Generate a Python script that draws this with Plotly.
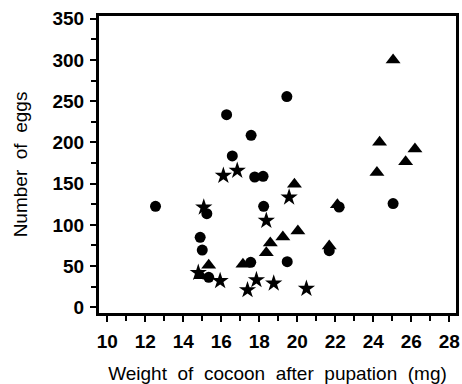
import plotly.graph_objects as go

# Circles
circle_x = [12.54, 16.28, 17.57, 16.58, 17.76, 18.20, 19.45, 18.23, 15.24, 14.89, 15.00, 15.34, 17.55, 19.47, 22.20, 21.68, 25.04]
circle_y = [122.5, 233.7, 208.7, 183.6, 158.1, 158.9, 255.6, 122.5, 113.6, 84.9, 69.5, 36.4, 54.6, 55.4, 121.7, 68.7, 125.8]

# Triangles
tri_x = [25.04, 24.33, 26.19, 25.70, 24.19, 19.85, 22.11, 20.03, 19.24, 18.58, 18.37, 21.68, 17.14, 15.34, 14.93]
tri_y = [300.0, 200.2, 192.0, 176.7, 163.4, 149.2, 124.5, 92.6, 85.3, 78.0, 66.3, 74.4, 52.2, 51.0, 38.4]

# Stars
star_x = [16.11, 16.84, 15.08, 19.57, 18.37, 14.79, 15.94, 17.38, 17.85, 18.76, 20.48]
star_y = [159.7, 165.8, 121.3, 133.4, 105.1, 42.0, 32.0, 21.0, 33.2, 29.1, 22.6]

x_ticks = [10, 12, 14, 16, 18, 20, 22, 24, 26, 28]
y_ticks = [0, 50, 100, 150, 200, 250, 300, 350]

fig = go.Figure()
fig.add_trace(go.Scatter(x=circle_x, y=circle_y, mode="markers",
                         marker=dict(symbol="circle", size=11, color="black")))
fig.add_trace(go.Scatter(x=tri_x, y=tri_y, mode="markers",
                         marker=dict(symbol="triangle-up", size=13, color="black")))
fig.add_trace(go.Scatter(x=star_x, y=star_y, mode="markers",
                         marker=dict(symbol="star", size=13, color="black")))

fig.update_layout(
    width=462, height=384,
    margin=dict(l=99, r=3, t=16, b=71),
    paper_bgcolor="white", plot_bgcolor="white",
    showlegend=False,
    font=dict(family="Liberation Sans, Arial, sans-serif", color="black"),
)
fig.update_xaxes(
    range=[9.567, 28.35], tickvals=x_ticks, ticktext=[str(v) for v in x_ticks],
    showgrid=False, zeroline=False,
    showline=True, linewidth=3, linecolor="black", mirror=True,
    ticks="outside", ticklen=6, tickwidth=2, tickcolor="black",
    minor=dict(dtick=1, tick0=10, ticks="outside", ticklen=5, tickwidth=2, tickcolor="black", showgrid=False),
    tickfont=dict(size=19, weight="bold", family="Liberation Sans, Arial, sans-serif"),
    ticklabelstandoff=3,
    title=dict(text="Weight  of  cocoon  after  pupation  (mg)", font=dict(size=19), standoff=16),
)
fig.update_yaxes(
    range=[-6.9, 353.4], tickvals=y_ticks, ticktext=[str(v) for v in y_ticks],
    showgrid=False, zeroline=False,
    showline=True, linewidth=3, linecolor="black", mirror=True,
    ticks="outside", ticklen=6, tickwidth=2, tickcolor="black",
    minor=dict(dtick=25, tick0=0, ticks="outside", ticklen=5, tickwidth=2, tickcolor="black", showgrid=False),
    tickfont=dict(size=19, weight="bold", family="Liberation Sans, Arial, sans-serif"),
    ticklabelstandoff=2,
    title=dict(text="Number  of  eggs", font=dict(size=19), standoff=20),
)

fig.write_html("out.html")
